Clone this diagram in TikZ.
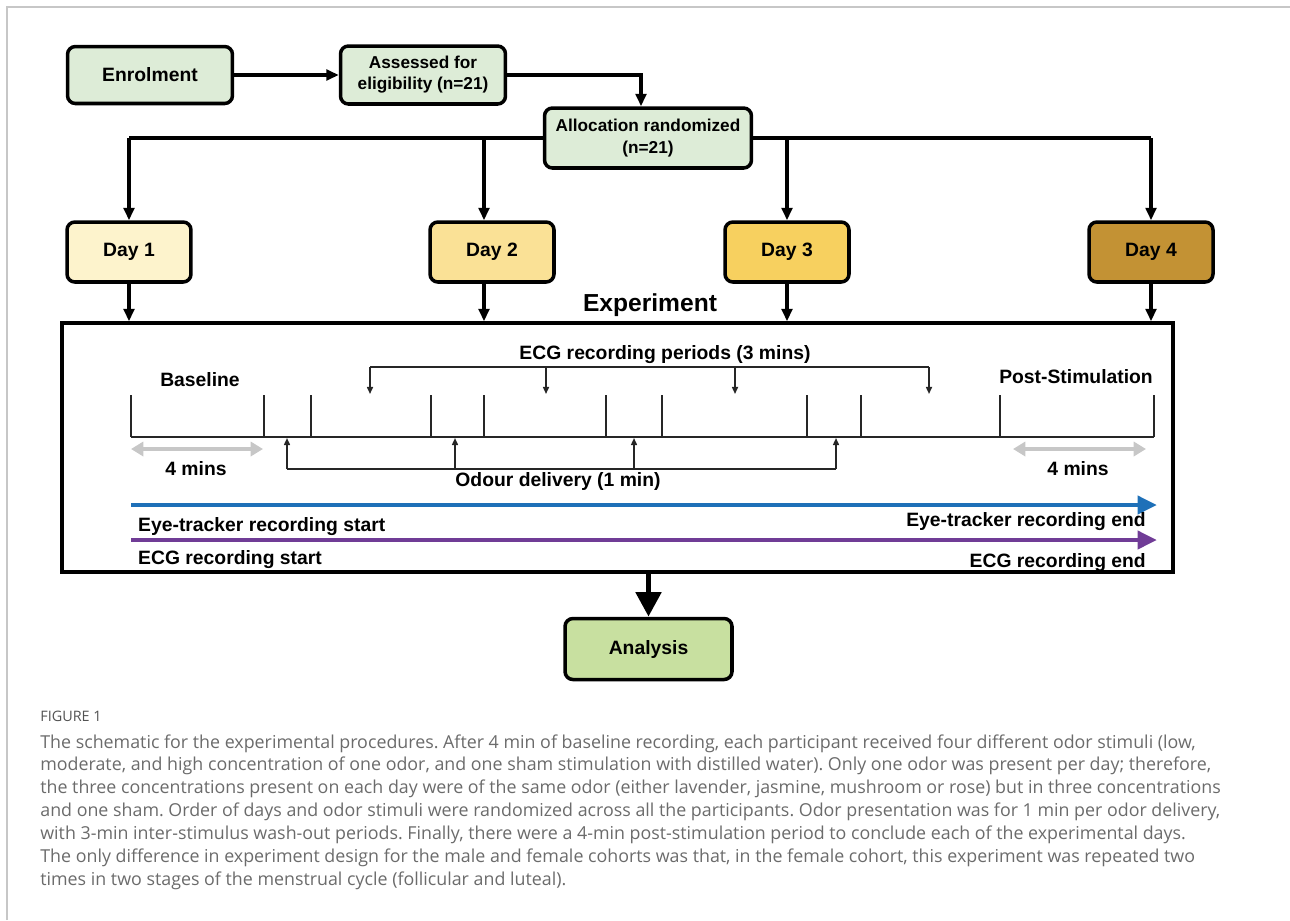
\documentclass[tikz,border=0pt]{standalone}
\usepackage{fontspec}
\setmainfont{Liberation Sans}
\newfontfamily\capfont{Open Sans}
\usetikzlibrary{arrows.meta,calc,positioning}
\definecolor{boxgreen}{RGB}{221,236,215}
\definecolor{anagreen}{RGB}{200,224,160}
\definecolor{dayone}{RGB}{253,243,204}
\definecolor{daytwo}{RGB}{250,225,150}
\definecolor{daythree}{RGB}{247,208,95}
\definecolor{dayfour}{RGB}{195,146,52}
\definecolor{eyeblue}{RGB}{30,112,184}
\definecolor{ecgpurple}{RGB}{112,60,150}
\def\lbl{\fontsize{11pt}{13pt}\selectfont\bfseries}
\def\smlbl{\fontsize{9.8pt}{12pt}\selectfont\bfseries}
\def\explbl{\fontsize{14pt}{16pt}\selectfont\bfseries}
\frenchspacing
\tikzset{
  flowbox/.style={draw=black, line width=2pt, rounded corners=4.5pt, align=center, inner sep=0pt},
  greenbox/.style={flowbox, fill=boxgreen},
  daybox/.style={flowbox, minimum width=2.48cm, minimum height=1.2cm, font=\lbl},
  arr/.style={-{Triangle[length=7pt,width=6pt]}, line width=1.9pt},
  tl/.style={line width=0.9pt, color=black!85},
  tlarr/.style={tl, -{Triangle[length=4pt,width=3.4pt]}},
  grayarr/.style={{Triangle[length=7pt,width=8pt]}-{Triangle[length=7pt,width=8pt]}, line width=2.6pt, color=black!22},
  longarr/.style={-{Triangle[length=11pt,width=10pt]}, line width=2.8pt},
}
\begin{document}
\begin{tikzpicture}[x=0.02cm,y=-0.02cm]
		%%%%% START %%%%%
		\useasboundingbox (0,0) rectangle (1290,920);
		\draw[line width=1.1pt, color=black!22] (7,920) -- (7,7) -- (1290,7);
		
		\node[greenbox, minimum width=3.3cm, minimum height=1.14cm, font=\lbl] (enrol) at (150,75) {Enrolment};
		\node[greenbox, minimum width=3.3cm, minimum height=1.16cm, font=\smlbl] (assess) at (423,75) {Assessed for\\eligibility (n=21)};
		
		\coordinate (b1) at (129,138);
		\coordinate (b2) at (484,138);
		\coordinate (b3) at (787,138);
		\coordinate (b4) at (1151,138);
		\draw[line width=1.9pt] (b1) -- (b4);
		\node[greenbox, minimum width=4.14cm, minimum height=1.2cm, font=\smlbl] (alloc) at (648,138) {Allocation randomized\\(n=21)};
		
		\draw[arr] (enrol) -- (assess);
		\draw[arr] (assess.east) -| ($(alloc.north)+(-7,0)$);
		
		\node[daybox, fill=dayone] (day1) at (129,252) {Day 1};
		\node[daybox, fill=daytwo] (day2) at (492,252) {Day 2};
		\node[daybox, fill=daythree] (day3) at (787,252) {Day 3};
		\node[daybox, fill=dayfour] (day4) at (1151,252) {Day 4};
		
		\draw[arr] (b1) -- (b1 |- day1.north);
		\draw[arr] (b2) -- (b2 |- day2.north);
		\draw[arr] (b3) -- (b3 |- day3.north);
		\draw[arr] (b4) -- (b4 |- day4.north);
		
		\node[draw, line width=2pt, minimum width=22.22cm, minimum height=4.98cm, inner sep=0pt] (exp) at (617.5,447.5) {};
		\node[font=\explbl] (exptitle) at (650,305) {Experiment};
		
		\draw[arr] (b1 |- day1.south) -- (b1 |- exp.north);
		\draw[arr] (b2 |- day2.south) -- (b2 |- exp.north);
		\draw[arr] (b3 |- day3.south) -- (b3 |- exp.north);
		\draw[arr] (b4 |- day4.south) -- (b4 |- exp.north);
		
		% timeline
		\draw[tl] (131,437) -- (1154,437);
		\foreach \x in {131,264,311,431,484,606,662,807,861,1000,1154}
			\draw[tl] (\x,437) -- (\x,395);
		\node[font=\lbl] (base) at (200,380) {Baseline};
		\node[font=\lbl] (post) at (1076,377) {Post-Stimulation};
		
		\draw[grayarr] (131,449) -- (263,449);
		\draw[grayarr] (1013,449) -- (1146,449);
		\node[font=\lbl] (fourl) at (196,469) {4 mins};
		\node[font=\lbl] (fourr) at (1078,469) {4 mins};
		
		% ECG periods
		\node[font=\lbl] (ecgper) at (665,355) {ECG recording periods (3 mins)};
		\draw[tl] (370,367) -- (929,367);
		\foreach \x in {370,546,735,929}
			\draw[tlarr] (\x,367) -- (\x,394);
		
		% odour delivery
		\draw[tl] (287,469) -- (836,469);
		\foreach \x in {287,455,634,836}
			\draw[tlarr] (\x,469) -- (\x,438);
		\node[font=\lbl] (odour) at (558,481) {Odour delivery (1 min)};
		
		% recordings
		\draw[longarr, color=eyeblue] (131,505) -- (1157,505);
		\node[font=\lbl, anchor=west] (eyes) at (132,527) {Eye-tracker recording start};
		\node[font=\lbl, anchor=east] (eyee) at (1152,522) {Eye-tracker recording end};
		\draw[longarr, color=ecgpurple] (131,540) -- (1157,540);
		\node[font=\lbl, anchor=west] (ecgs) at (132,560) {ECG recording start};
		\node[font=\lbl, anchor=east] (ecge) at (1152,563) {ECG recording end};
		
		\node[flowbox, fill=anagreen, minimum width=3.34cm, minimum height=1.22cm, font=\lbl] (ana) at (648.5,649) {Analysis};
		\draw[longarr, line width=3.4pt, -{Triangle[length=14pt,width=14pt]}] (exp.south -| ana.north) -- (ana.north);
		
		% caption
		\node[anchor=west, font=\capfont\fontsize{8.2pt}{9pt}\selectfont, text=black!68, inner sep=0pt] (fig) at (40,716) {FIGURE 1};
		\node[anchor=north west, align=left, font=\capfont\fontsize{10.15pt}{13.05pt}\selectfont, text=black!58, inner sep=0pt] (cap) at (40,734)
			{The schematic for the experimental procedures. After 4 min of baseline recording, each participant received four different odor stimuli (low,\\
			moderate, and high concentration of one odor, and one sham stimulation with distilled water). Only one odor was present per day; therefore,\\
			the three concentrations present on each day were of the same odor (either lavender, jasmine, mushroom or rose) but in three concentrations\\
			and one sham. Order of days and odor stimuli were randomized across all the participants. Odor presentation was for 1 min per odor delivery,\\
			with 3-min inter-stimulus wash-out periods. Finally, there were a 4-min post-stimulation period to conclude each of the experimental days.\\
			The only difference in experiment design for the male and female cohorts was that, in the female cohort, this experiment was repeated two\\
			times in two stages of the menstrual cycle (follicular and luteal).};
		
		%%%%% END %%%%%
\end{tikzpicture}
\end{document}
